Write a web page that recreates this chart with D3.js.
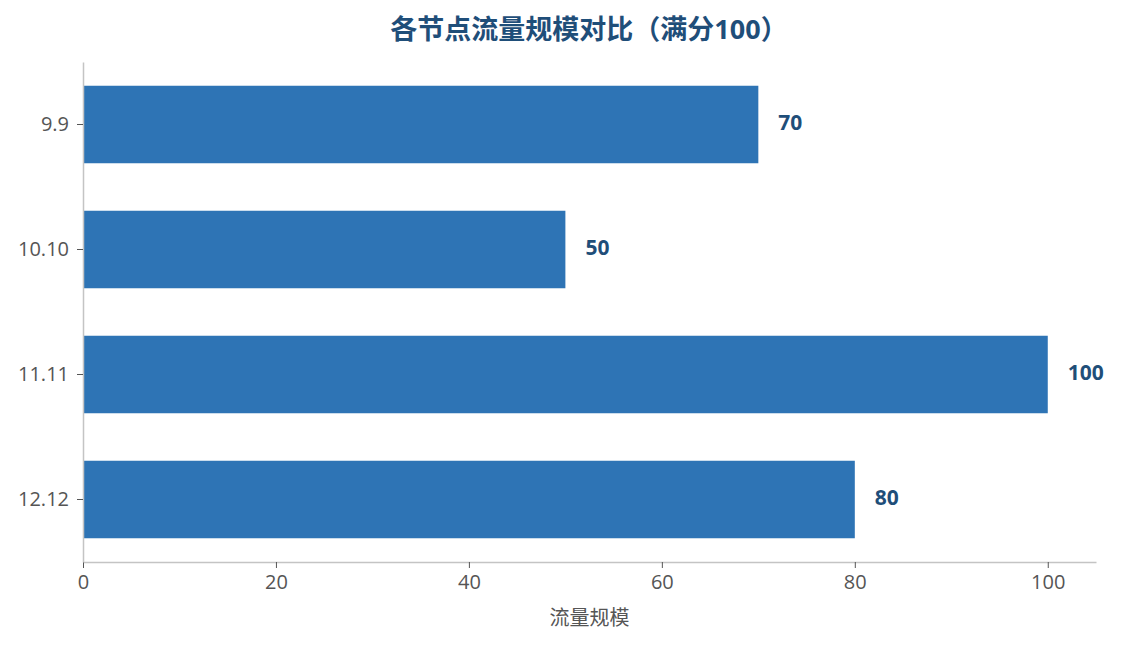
<!DOCTYPE html>
<html>
<head>
<meta charset="utf-8">
<script src="https://cdn.jsdelivr.net/npm/d3@7"></script>
<style>
  body { margin: 0; background: #fff; }
  text { font-family: "Open Sans", "Noto Sans CJK SC", sans-serif; }
</style>
</head>
<body>
<script>
// data
let nodes = ["9.9", "10.10", "11.11", "12.12"];
let scores = [70, 50, 100, 80];
let xTicks = [0, 20, 40, 60, 80, 100];

let svg = d3.select("body").append("svg")
    .attr("width", 1121)
    .attr("height", 645);

let x = d3.scaleLinear()
    .domain([0, 105])
    .range([83, 1096]);

let y = d3.scaleBand()
    .domain(nodes)
    .range([62, 562])
    .paddingInner(0.38)
    .paddingOuter(0.19);

// title
svg.append("text")
    .attr("x", 589)
    .attr("y", 39)
    .attr("text-anchor", "middle")
    .attr("font-size", 27)
    .attr("font-weight", "bold")
    .attr("fill", "#1f4e79")
    .text("各节点流量规模对比（满分100）");

// bars
svg.selectAll("rect.bar")
    .data(nodes)
    .enter().append("rect")
    .attr("class", "bar")
    .attr("x", x(0))
    .attr("y", d => y(d))
    .attr("width", (d, i) => x(scores[i]) - x(0))
    .attr("height", y.bandwidth())
    .attr("fill", "#2e74b5");

// value labels
svg.selectAll("text.val")
    .data(nodes)
    .enter().append("text")
    .attr("class", "val")
    .attr("x", (d, i) => x(scores[i]) + 20)
    .attr("y", d => y(d) + y.bandwidth() / 2 - 2)
    .attr("dy", "0.35em")
    .attr("font-size", 21)
    .attr("font-weight", "bold")
    .attr("fill", "#1f4e79")
    .text((d, i) => scores[i]);

// x axis
let xAxis = svg.append("g")
    .attr("transform", "translate(0,562)")
    .call(d3.axisBottom(x).tickValues(xTicks).tickSize(6).tickSizeOuter(0).tickPadding(7));

// y axis
let yAxis = svg.append("g")
    .attr("transform", "translate(83,0)")
    .call(d3.axisLeft(y).tickSize(6).tickSizeOuter(0).tickPadding(8));

[xAxis, yAxis].forEach(g => {
    g.attr("font-size", 20).attr("font-family", "'Open Sans', 'Noto Sans CJK SC', sans-serif");
    g.select(".domain").attr("stroke", "#c4c4c4").attr("stroke-width", 1.5);
    g.selectAll(".tick line").attr("stroke", "#555");
    g.selectAll(".tick text").attr("fill", "#555");
});

// x axis title
svg.append("text")
    .attr("x", x(52.5))
    .attr("y", 625)
    .attr("text-anchor", "middle")
    .attr("font-size", 20)
    .attr("fill", "#555")
    .text("流量规模");
</script>
</body>
</html>
